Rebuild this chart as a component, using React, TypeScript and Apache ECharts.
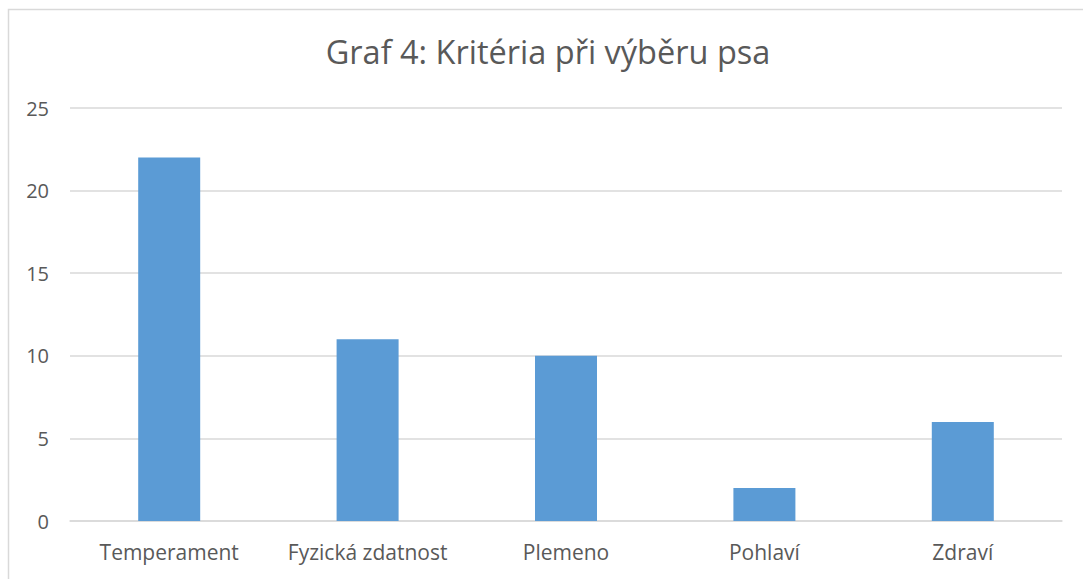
import React, { useEffect, useRef } from "react";
import * as echarts from "echarts";

const titleText = "Graf 4: Kritéria při výběru psa";
const categories = ["Temperament", "Fyzická zdatnost", "Plemeno", "Pohlaví", "Zdraví"];
const values = [22, 11, 10, 2, 6];

export default function App() {
  const ref = useRef<HTMLDivElement>(null);
  useEffect(() => {
    const chart = echarts.init(ref.current!, undefined, { renderer: "svg" });
    const font = "'Open Sans', sans-serif";
    chart.setOption({
      animation: false,
      backgroundColor: "#ffffff",
      graphic: [
        {
          type: "rect",
          shape: { x: 8.5, y: 9.5, width: 1200, height: 700 },
          style: { fill: "none", stroke: "#d9d9d9", lineWidth: 1.5 },
          silent: true,
        },
        {
          type: "text",
          x: 548,
          y: 51,
          style: {
            text: titleText,
            fontFamily: font,
            fontSize: 32.5,
            fill: "#595959",
            textAlign: "center",
            textVerticalAlign: "middle",
          },
        },
      ],
      grid: { left: 70, right: 21, top: 108, bottom: 58 },
      xAxis: {
        type: "category",
        data: categories,
        axisLine: { show: true, lineStyle: { color: "#d9d9d9", width: 1.5 } },
        axisTick: { show: false },
        axisLabel: {
          color: "#595959",
          fontFamily: font,
          fontSize: 21,
          margin: 20,
          interval: 0,
          hideOverlap: false,
        },
      },
      yAxis: {
        type: "value",
        min: 0,
        max: 25,
        interval: 5,
        axisLine: { show: false },
        axisTick: { show: false },
        splitLine: { lineStyle: { color: "#d9d9d9", width: 1.5 } },
        axisLabel: { color: "#595959", fontFamily: font, fontSize: 20, margin: 21 },
      },
      series: [
        {
          type: "bar",
          data: values,
          barWidth: 62,
          itemStyle: { color: "#5b9bd5" },
        },
      ],
    });
    return () => chart.dispose();
  }, []);
  return (
    <div
      ref={ref}
      style={{ position: "absolute", left: 0, top: 0, width: 1083, height: 579 }}
    />
  );
}
